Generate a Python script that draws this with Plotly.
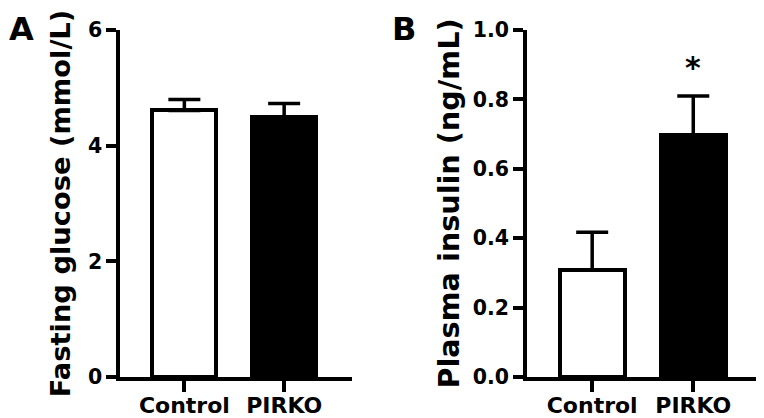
import plotly.graph_objects as go

groups = ["Control", "PIRKO"]
glucose = [4.61, 4.49]
glucose_sem = [0.19, 0.24]
insulin = [0.309, 0.697]
insulin_sem = [0.108, 0.113]
bar_fill = ["white", "black"]
glu_ticks = [0, 2, 4, 6]
ins_ticks = [0.0, 0.2, 0.4, 0.6, 0.8, 1.0]

# The page body adds an 8px offset; the figure is sized to fit the window after it.
W, H = 756, 410
OFF = 8
T = 29.5 - OFF
B = H - (377 - OFF)
PH = H - T - B

def px(x):
    return (x - OFF) / W

def py(y):
    return 1 - ((y - OFF) - T) / PH

FAM = "DejaVu Sans"

fig = go.Figure()

fig.add_trace(go.Bar(
    x=groups, y=glucose, width=0.64,
    marker=dict(color=bar_fill, line=dict(color="black", width=4)),
    error_y=dict(type="data", array=glucose_sem, arrayminus=[0, 0], symmetric=False,
                 color="black", thickness=3.5, width=16),
    xaxis="x", yaxis="y", showlegend=False))

fig.add_trace(go.Bar(
    x=groups, y=insulin, width=0.64,
    marker=dict(color=bar_fill, line=dict(color="black", width=4)),
    error_y=dict(type="data", array=insulin_sem, arrayminus=[0, 0], symmetric=False,
                 color="black", thickness=3.5, width=16),
    xaxis="x2", yaxis="y2", showlegend=False))

common_x = dict(type="category", range=[-0.645, 1.68], showline=True, linecolor="black",
                linewidth=3.5, ticks="outside", ticklen=11, tickwidth=3.5, tickcolor="black",
                showgrid=False, zeroline=False, automargin=False, ticklabelstandoff=-5,
                tickfont=dict(family=FAM, size=22, color="black", weight=700))
common_y = dict(showline=True, linecolor="black", linewidth=3.5, ticks="outside", ticklen=10,
                tickwidth=3.5, tickcolor="black", showgrid=False, zeroline=False, automargin=False,
                tickfont=dict(family=FAM, size=20.5, color="black", weight=700))

fig.update_layout(
    width=W, height=H,
    margin=dict(l=0, r=0, t=T, b=B, pad=0),
    plot_bgcolor="white", paper_bgcolor="white",
    bargap=0,
    xaxis=dict(domain=[px(120), px(352)], anchor="y", **common_x),
    xaxis2=dict(domain=[px(527), px(762)], anchor="y2", **common_x),
    yaxis=dict(domain=[0, 1], anchor="x", range=[0, 6], tickvals=glu_ticks,
               ticktext=[str(v) for v in glu_ticks],
               title=dict(text="Fasting glucose (mmol/L)", standoff=10,
                          font=dict(family=FAM, size=27.3, color="black", weight=700)),
               **common_y),
    yaxis2=dict(domain=[0, 1], anchor="x2", range=[0, 1.0], tickvals=ins_ticks,
                ticktext=[f"{v:.1f}" for v in ins_ticks],
                title=dict(text="Plasma insulin (ng/mL)", standoff=6,
                           font=dict(family=FAM, size=28.7, color="black", weight=700)),
                **common_y),
)

fig.add_annotation(x="PIRKO", y=insulin[1] + insulin_sem[1], xref="x2", yref="y2",
                   text="<b>*</b>", showarrow=False, yanchor="bottom", yshift=9,
                   font=dict(family=FAM, size=30, color="black"))

fig.add_annotation(x=px(8), y=py(8), xref="paper", yref="paper", text="<b>A</b>",
                   showarrow=False, xanchor="left", yanchor="top", borderpad=0,
                   font=dict(family=FAM, size=32, color="black"))
fig.add_annotation(x=px(404), y=py(8), xref="paper", yref="paper", text="<b>B</b>",
                   showarrow=False, xanchor="center", yanchor="top", borderpad=0,
                   font=dict(family=FAM, size=32, color="black"))

fig.write_html("out.html")
